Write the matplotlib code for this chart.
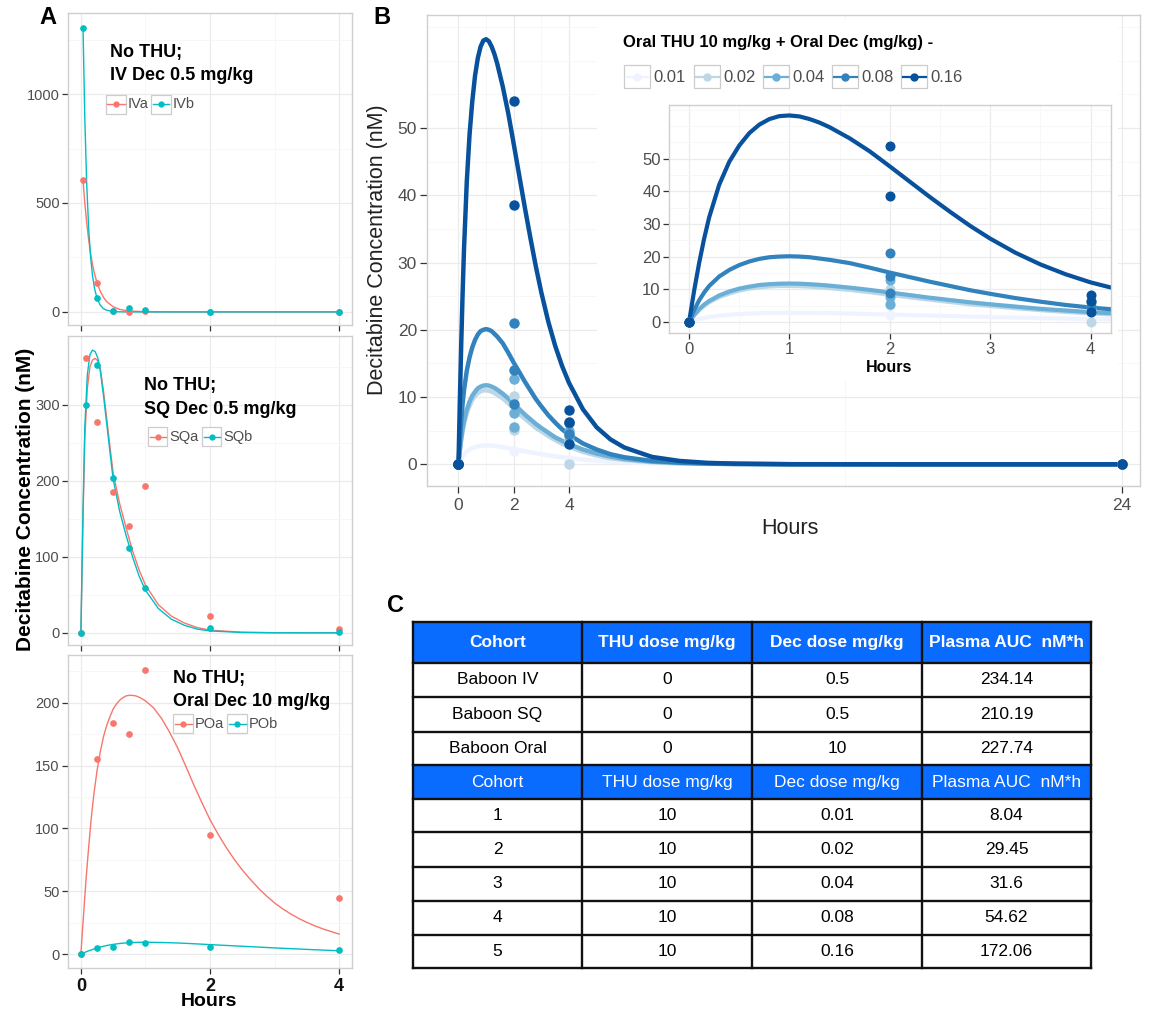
import matplotlib
matplotlib.use('Agg')
import matplotlib.pyplot as plt
from matplotlib.patches import Rectangle
from matplotlib.lines import Line2D

plt.rcParams['font.family'] = ['Liberation Sans', 'DejaVu Sans']

# ---------------- DATA ----------------
# Panel A - IV
iv_times = [0.033, 0.25, 0.5, 0.75, 1, 2, 4]
iva_obs = [605, 133, 2, 0, 3, 0, 0]
ivb_obs = [1303, 62, 6, 16, 9, 0, 0]
iv_fit_t = [0.033, 0.06, 0.09, 0.12, 0.15, 0.18, 0.21, 0.25, 0.3, 0.35, 0.4,
            0.5, 0.6, 0.75, 1.0, 1.5, 2, 3, 4]
iva_fit = [605, 501, 408, 331, 268, 217, 176, 134, 95, 67, 47, 23.5, 11.7, 4.1,
           0.7, 0, 0, 0, 0]
ivb_fit = [1303, 893, 586, 385, 253, 166, 109, 62, 31, 15, 7.6, 1.9, 0.5, 0.05,
           0, 0, 0, 0, 0]

# Panel A - SQ
sq_times = [0, 0.083, 0.25, 0.5, 0.75, 1, 2, 4]
sqa_obs = [0, 362, 277, 185, 140, 193, 22, 5.6]
sqb_obs = [0, 300, 353, 204, 112, 59, 6.5, 0.5]
sq_fit_t = [0, 0.03, 0.06, 0.1, 0.14, 0.18, 0.22, 0.26, 0.3, 0.35, 0.4, 0.45,
            0.5, 0.6, 0.7, 0.8, 0.9, 1.0, 1.2, 1.4, 1.6, 1.8, 2.0, 2.5, 3.0, 4.0]
sqa_fit = [0, 140, 255, 322, 350, 359, 361, 358, 348, 318, 282, 245, 210, 170,
           138, 108, 83, 63, 37, 22, 13, 7, 3.5, 0.8, 0.2, 0]
sqb_fit = [0, 150, 270, 340, 366, 372, 370, 362, 345, 312, 275, 238, 202, 160,
           128, 100, 75, 56, 32, 18, 10, 5, 2.5, 0.5, 0.1, 0]

# Panel A - Oral
po_times = [0, 0.25, 0.5, 0.75, 1, 2, 4]
poa_obs = [0, 155, 184, 175, 226, 95, 45]
pob_obs = [0, 5.3, 6, 10, 9.2, 5.6, 3.4]
poa_fit_t = [0, 0.02, 0.05, 0.08, 0.12, 0.16, 0.2, 0.25, 0.3, 0.35, 0.4, 0.45,
             0.5, 0.55, 0.6, 0.65, 0.7, 0.77, 0.85, 0.92, 1.0, 1.125, 1.25,
             1.375, 1.5, 1.625, 1.75, 1.875, 2.0, 2.125, 2.25, 2.375, 2.5,
             2.625, 2.75, 2.875, 3.0, 3.125, 3.25, 3.375, 3.5, 3.625, 3.75,
             3.875, 4.0]
poa_fit = [0, 16, 38, 60, 85, 108, 127, 146, 161, 173, 182, 189, 195, 199, 202,
           204, 205.5, 206, 205.5, 204, 201.5, 196, 187.5, 176.5, 164, 149.5,
           134.5, 120.5, 107, 95.5, 85, 75.5, 67, 59.5, 52.5, 46.3, 40.8, 36.1,
           32, 28.4, 25.3, 22.5, 20.1, 18, 16]
pob_fit_t = [0, 0.1, 0.25, 0.4, 0.5, 0.6, 0.75, 0.9, 1.0, 1.25, 1.5, 1.75, 2.0,
             2.5, 3.0, 3.5, 4.0]
pob_fit = [0, 2.3, 5.0, 6.9, 7.8, 8.5, 9.2, 9.45, 9.5, 9.3, 8.9, 8.3, 7.6, 6.3,
           5.0, 3.8, 2.7]

# Panel B
doses = ['0.01', '0.02', '0.04', '0.08', '0.16']
b_fit_t = [0, 0.05, 0.1, 0.15, 0.2, 0.3, 0.4, 0.5, 0.6, 0.7, 0.8, 0.9, 1.0,
           1.1, 1.2, 1.3, 1.4, 1.6, 1.8, 2.0, 2.2, 2.4, 2.6, 2.8, 3.0, 3.25,
           3.5, 3.75, 4.0, 4.5, 5, 5.5, 6, 7, 8, 9, 10, 12, 16, 20, 24]
fit_001 = [0, 0.5, 0.9, 1.2, 1.5, 1.9, 2.2, 2.4, 2.55, 2.67, 2.75, 2.8, 2.8,
           2.8, 2.77, 2.73, 2.68, 2.55, 2.4, 2.25, 2.1, 1.95, 1.8, 1.65, 1.5,
           1.33, 1.18, 1.04, 0.92, 0.7, 0.53, 0.4, 0.3, 0.17, 0.1, 0.06, 0.03,
           0.01, 0, 0, 0]
fit_002 = [0, 2.0, 3.6, 4.9, 6.0, 7.6, 8.7, 9.6, 10.2, 10.6, 10.85, 11.0, 11.0,
           10.95, 10.8, 10.6, 10.35, 9.8, 9.1, 8.3, 7.5, 6.8, 6.1, 5.4, 4.9,
           4.2, 3.6, 3.05, 2.6, 1.85, 1.3, 0.9, 0.65, 0.3, 0.15, 0.07, 0.03,
           0, 0, 0, 0]
fit_004 = [0, 2.1, 3.9, 5.3, 6.4, 8.1, 9.3, 10.2, 10.8, 11.3, 11.55, 11.7, 11.75,
           11.7, 11.55, 11.35, 11.1, 10.5, 9.8, 9.0, 8.2, 7.4, 6.7, 6.0, 5.4,
           4.7, 4.0, 3.5, 3.0, 2.2, 1.6, 1.15, 0.8, 0.4, 0.2, 0.1, 0.05, 0.01,
           0, 0, 0]
fit_008 = [0, 3.6, 6.6, 9.0, 11.0, 13.9, 15.9, 17.4, 18.5, 19.3, 19.8, 20.0,
           20.1, 20.0, 19.8, 19.4, 19.0, 18.0, 16.6, 15.1, 13.7, 12.3, 11.0,
           9.7, 8.6, 7.3, 6.2, 5.2, 4.4, 3.1, 2.2, 1.5, 1.05, 0.5, 0.25, 0.12,
           0.06, 0.01, 0, 0, 0]
fit_016 = [0, 9.5, 18, 25.5, 32, 42, 49, 54, 57.8, 60.4, 62.1, 63, 63.2, 62.9,
           62.1, 61, 59.6, 56.2, 52.2, 47.6, 42.9, 38.2, 33.7, 29.4, 25.5, 21.2,
           17.6, 14.6, 12.1, 8.2, 5.5, 3.7, 2.5, 1.1, 0.5, 0.22, 0.1, 0.02, 0,
           0, 0]
obs_t_001 = [0, 2, 4, 24]
obs_v_001 = [0, 2.0, 0.4, 0]
obs_t_002 = [0, 0, 2, 2, 4, 4, 24]
obs_v_002 = [0, 0, 10.1, 5.1, 3.5, 0, 0]
obs_t_004 = [0, 0, 2, 2, 2, 4, 4, 24]
obs_v_004 = [0, 0, 12.7, 7.7, 5.6, 4.9, 4.2, 0]
obs_t_008 = [0, 0, 2, 2, 2, 4, 4, 24]
obs_v_008 = [0, 0, 21.0, 14.0, 9.0, 6.1, 4.5, 0]
obs_t_016 = [0, 0, 2, 2, 4, 4, 4, 24]
obs_v_016 = [0, 0, 54.0, 38.5, 8.1, 6.3, 3.0, 0]

# Panel C table
tab_header = ['Cohort', 'THU dose mg/kg', 'Dec dose mg/kg', 'Plasma AUC  nM*h']
tab1_cohort = ['Baboon IV', 'Baboon SQ', 'Baboon Oral']
tab1_thu = ['0', '0', '0']
tab1_dec = ['0.5', '0.5', '10']
tab1_auc = ['234.14', '210.19', '227.74']
tab2_cohort = ['1', '2', '3', '4', '5']
tab2_thu = ['10', '10', '10', '10', '10']
tab2_dec = ['0.01', '0.02', '0.04', '0.08', '0.16']
tab2_auc = ['8.04', '29.45', '31.6', '54.62', '172.06']

# ---------------- FIGURE ----------------
W, H = 1151, 1013
fig = plt.figure(figsize=(W / 100, H / 100), dpi=100)
fig.patch.set_facecolor('white')


def box(l, t, r, b):
    return [l / W, 1 - b / H, (r - l) / W, (b - t) / H]


def FX(x):
    return x / W


def FY(y):
    return 1 - y / H


RED = '#F8766D'
CYAN = '#00BFC4'
BLUES = ['#EFF3FF', '#BDD7E7', '#6BAED6', '#3182BD', '#08519C']
GMAJ = '#EBEBEB'
GMIN = '#F6F6F6'
BORDER = '#CFCFCF'
TICKC = '#333333'
LABC = '#4D4D4D'


def style(ax, xmaj, xmin, ymaj, ymin, ysize=10.5, xsize=10.5):
    ax.set_xticks(xmaj)
    ax.set_xticks(xmin, minor=True)
    ax.set_yticks(ymaj)
    ax.set_yticks(ymin, minor=True)
    ax.grid(True, which='major', color=GMAJ, lw=0.9)
    ax.grid(True, which='minor', color=GMIN, lw=0.6)
    ax.set_axisbelow(True)
    for s in ax.spines.values():
        s.set_color(BORDER)
        s.set_linewidth(1.0)
    ax.tick_params(which='major', direction='out', length=4, width=0.9,
                   color=TICKC, labelcolor=LABC)
    ax.tick_params(axis='y', labelsize=ysize, pad=2)
    ax.tick_params(axis='x', labelsize=xsize, pad=3)
    ax.tick_params(which='minor', length=0)


def key_box(x0, y0, w, h, color, lw=1.0, ms=4):
    fig.add_artist(Rectangle((FX(x0), FY(y0 + h)), w / W, h / H,
                             transform=fig.transFigure, facecolor='white',
                             edgecolor='#CCCCCC', lw=0.9))
    yc = FY(y0 + h / 2)
    fig.add_artist(Line2D([FX(x0 + 1.5), FX(x0 + w - 1.5)], [yc, yc],
                          transform=fig.transFigure, color=color, lw=lw))
    fig.add_artist(Line2D([FX(x0 + w / 2)], [yc], transform=fig.transFigure,
                          color=color, marker='o', ms=ms, lw=0))


# ---- Panel A ----
xmajA = [0, 2, 4]
xminA = [1, 3]
panelsA = [
    dict(box=(68, 13, 352, 325), ylim=(-60, 1372), ymaj=[0, 500, 1000],
         ymin=[250, 750, 1250], t=iv_times, a=iva_obs, b=ivb_obs,
         fta=iv_fit_t, fa=iva_fit, ftb=iv_fit_t, fb=ivb_fit,
         title=['No THU;', 'IV Dec 0.5 mg/kg'], tx=110, ty=(53, 76),
         lab=['IVa', 'IVb'], lx=(106, 151), ly=95, lw_=20),
    dict(box=(68, 336, 352, 645), ylim=(-16, 390.5), ymaj=[0, 100, 200, 300],
         ymin=[50, 150, 250, 350], t=sq_times, a=sqa_obs, b=sqb_obs,
         fta=sq_fit_t, fa=sqa_fit, ftb=sq_fit_t, fb=sqb_fit,
         title=['No THU;', 'SQ Dec 0.5 mg/kg'], tx=144, ty=(385, 409),
         lab=['SQa', 'SQb'], lx=(148, 202), ly=427, lw_=19),
    dict(box=(68, 655, 352, 968), ylim=(-11, 238), ymaj=[0, 50, 100, 150, 200],
         ymin=[25, 75, 125, 175, 225], t=po_times, a=poa_obs, b=pob_obs,
         fta=poa_fit_t, fa=poa_fit, ftb=pob_fit_t, fb=pob_fit,
         title=['No THU;', 'Oral Dec 10 mg/kg'], tx=173, ty=(678, 702),
         lab=['POa', 'POb'], lx=(173, 227), ly=714, lw_=20),
]
for i, p in enumerate(panelsA):
    ax = fig.add_axes(box(*p['box']))
    ax.set_xlim(-0.2, 4.2)
    ax.set_ylim(*p['ylim'])
    style(ax, xmajA, xminA, p['ymaj'], p['ymin'], ysize=10.5, xsize=13)
    ax.plot(p['fta'], p['fa'], color=RED, lw=1.0, zorder=2)
    ax.plot(p['ftb'], p['fb'], color=CYAN, lw=1.0, zorder=2)
    ax.plot(p['t'], p['a'], 'o', color=RED, ms=3.8, zorder=3)
    ax.plot(p['t'], p['b'], 'o', color=CYAN, ms=3.8, zorder=3)
    if i < 2:
        ax.tick_params(axis='x', labelbottom=False)
    else:
        for lb in ax.get_xticklabels():
            lb.set_fontweight('bold')
            lb.set_color('#111111')
    fig.text(FX(p['tx']), FY(p['ty'][0]), p['title'][0], fontsize=13,
             fontweight='bold', va='center', ha='left')
    fig.text(FX(p['tx']), FY(p['ty'][1]), p['title'][1], fontsize=13,
             fontweight='bold', va='center', ha='left')
    for lx, lab, col in zip(p['lx'], p['lab'], [RED, CYAN]):
        key_box(lx, p['ly'], p['lw_'], 19, col, lw=1.0, ms=3.5)
        fig.text(FX(lx + p['lw_'] + 2), FY(p['ly'] + 9.5), lab, fontsize=10.5,
                 color=LABC, va='center', ha='left')

fig.text(FX(26), FY(499), 'Decitabine Concentration (nM)', rotation=90,
         fontsize=15, fontweight='bold', ha='center', va='center')
fig.text(FX(209), FY(1001), 'Hours', fontsize=14, fontweight='bold',
         ha='center', va='center')
fig.text(FX(48), FY(18), 'A', fontsize=17, fontweight='bold', ha='center',
         va='center')

# ---- Panel B ----
fits = [fit_001, fit_002, fit_004, fit_008, fit_016]
obs_t = [obs_t_001, obs_t_002, obs_t_004, obs_t_008, obs_t_016]
obs_v = [obs_v_001, obs_v_002, obs_v_004, obs_v_008, obs_v_016]

axB = fig.add_axes(box(426.7, 15, 1140, 486.5))
axB.set_xlim(-1.15, 24.66)
axB.set_ylim(-3.3, 66.8)
style(axB, [0, 2, 4, 24], [1, 3, 14], [0, 10, 20, 30, 40, 50],
      [5, 15, 25, 35, 45, 55, 60, 65], ysize=12.5, xsize=12.5)
axB.tick_params(which='major', length=5)
for k in range(5):
    axB.plot(b_fit_t, fits[k], color=BLUES[k], lw=3.2, zorder=2 + k * 0.1,
             solid_capstyle='round', solid_joinstyle='round')
    axB.plot(obs_t[k], obs_v[k], 'o', color=BLUES[k], ms=6.5,
             zorder=3 + k * 0.1)
wr = Rectangle((FX(597), FY(380)), (1118 - 597) / W, (380 - 20) / H,
               transform=fig.transFigure, facecolor='white', edgecolor='none',
               zorder=1)
axB.add_patch(wr)
fig.text(FX(378), FY(250), 'Decitabine Concentration (nM)', rotation=90,
         fontsize=15.5, ha='center', va='center', color='#222222')
fig.text(FX(790), FY(528), 'Hours', fontsize=15.5, ha='center', va='center',
         color='#222222')
fig.text(FX(382), FY(18), 'B', fontsize=17, fontweight='bold', ha='center',
         va='center')

# legend of panel B
fig.text(FX(623), FY(43), 'Oral THU 10 mg/kg + Oral Dec (mg/kg) -',
         fontsize=12, fontweight='bold', ha='left', va='center')
key_x = [624, 694, 763, 832, 901]
for k in range(5):
    key_box(key_x[k], 65.5, 26, 23, BLUES[k], lw=1.6, ms=5)
    fig.text(FX(key_x[k] + 29), FY(77), doses[k], fontsize=12, color=LABC,
             ha='left', va='center')

# inset
axI = fig.add_axes(box(669, 105, 1110.7, 332.7))
axI.set_facecolor('white')
axI.set_xlim(-0.2, 4.2)
axI.set_ylim(-3.3, 66.4)
style(axI, [0, 1, 2, 3, 4], [0.5, 1.5, 2.5, 3.5], [0, 10, 20, 30, 40, 50],
      [5, 15, 25, 35, 45, 55, 60, 65], ysize=12, xsize=12)
for k in range(5):
    axI.plot(b_fit_t, fits[k], color=BLUES[k], lw=3.0, zorder=2 + k * 0.1,
             solid_joinstyle='round')
    axI.plot(obs_t[k], obs_v[k], 'o', color=BLUES[k], ms=6.2,
             zorder=3 + k * 0.1)
fig.text(FX(889), FY(367), 'Hours', fontsize=11.5, fontweight='bold',
         ha='center', va='center')

# ---- Panel C ----
fig.text(FX(396), FY(606), 'C', fontsize=17, fontweight='bold', ha='center',
         va='center')
axT = fig.add_axes(box(400, 612, 1100, 975))
axT.set_xlim(400, 1100)
axT.set_ylim(975, 612)
axT.axis('off')
col_x = [413, 582, 752, 922, 1091]
row_y = [621.7, 662.7, 696.7, 731.7, 765, 799.3, 832.3, 866.7, 900.7, 935,
         968.3]
BLUE_H = '#0A6BFF'
for r0, r1 in [(row_y[0], row_y[1]), (row_y[4], row_y[5])]:
    axT.add_patch(Rectangle((col_x[0], r0), col_x[-1] - col_x[0], r1 - r0,
                            facecolor=BLUE_H, edgecolor='none'))
table_rows = []
table_rows.append((tab_header, True, 'white', 0))
for j in range(3):
    table_rows.append(([tab1_cohort[j], tab1_thu[j], tab1_dec[j], tab1_auc[j]],
                       False, 'black', j + 1))
table_rows.append((tab_header, False, 'white', 4))
for j in range(5):
    table_rows.append(([tab2_cohort[j], tab2_thu[j], tab2_dec[j], tab2_auc[j]],
                       False, 'black', j + 5))
for cells, bold, col, ri in table_rows:
    yc = (row_y[ri] + row_y[ri + 1]) / 2
    for ci, txt in enumerate(cells):
        xc = (col_x[ci] + col_x[ci + 1]) / 2
        axT.text(xc, yc, txt, ha='center', va='center', fontsize=12.5,
                 fontweight='bold' if bold else 'normal', color=col)
for y in row_y:
    axT.plot([col_x[0], col_x[-1]], [y, y], color='#111111', lw=1.7,
             solid_capstyle='projecting')
for x in col_x:
    axT.plot([x, x], [row_y[0], row_y[-1]], color='#111111', lw=1.7,
             solid_capstyle='projecting')

fig.savefig('out.png', dpi=100, facecolor='white')
